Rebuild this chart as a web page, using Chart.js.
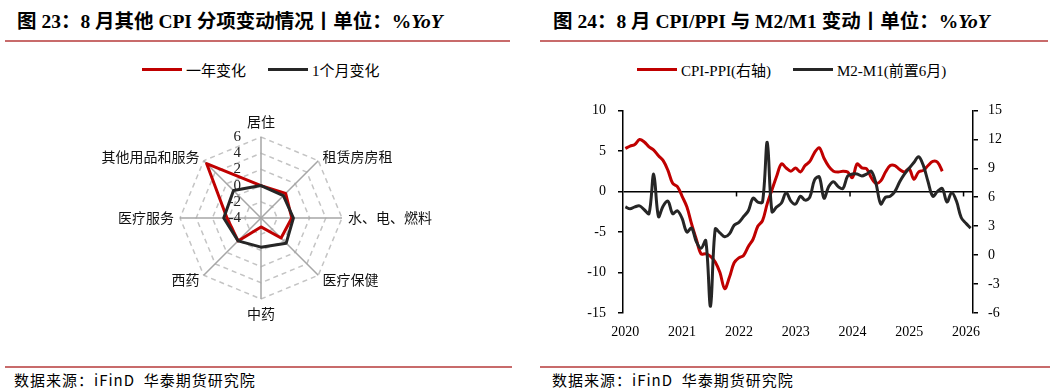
<!DOCTYPE html>
<html>
<head>
<meta charset="utf-8">
<script src="https://cdn.jsdelivr.net/npm/chart.js@4.4.1/dist/chart.umd.min.js"></script>
<style>
  body { margin: 0; width: 1057px; height: 392px; background: #fff; overflow: hidden; position: relative;
         font-family: "Liberation Serif", "Noto Sans CJK SC", serif; color: #000; }
  .title { position: absolute; top: 5px; font-size: 19.5px; font-weight: bold; white-space: nowrap; }
  .title i { font-style: italic; }
  .rule { position: absolute; height: 2px; background: #c86b6b; }
  .foot { position: absolute; top: 369px; font-size: 15px; letter-spacing: 1px; font-family: "Noto Sans CJK SC", sans-serif; white-space: nowrap; }
  .legend { position: absolute; top: 59px; font-size: 15px; white-space: nowrap; display: flex; align-items: center; }
  .legend .sw { display: inline-block; width: 40px; height: 3px; margin-right: 4px; }
  .legend .gap { display: inline-block; width: 22px; }
  canvas { position: absolute; }
</style>
</head>
<body>

<div class="title" style="left:17px">图 23：8 月其他 CPI 分项变动情况丨单位：%<i>YoY</i></div>
<div class="title" style="left:553px">图 24：8 月 CPI/PPI 与 M2/M1 变动丨单位：%<i>YoY</i></div>
<div class="rule" style="left:5px; width:505px; top:40px"></div>
<div class="rule" style="left:540px; width:508px; top:40px"></div>

<div class="legend" style="left:142px">
  <span class="sw" style="background:#c00000"></span>一年变化<span class="gap"></span>
  <span class="sw" style="background:#262626"></span>1个月变化
</div>
<div class="legend" style="left:637px">
  <span class="sw" style="background:#c00000"></span>CPI-PPI(右轴)<span class="gap"></span>
  <span class="sw" style="background:#262626"></span>M2-M1(前置6月)
</div>

<canvas id="radarChart" width="520" height="240" style="left:0; top:100px; width:520px; height:240px"></canvas>
<canvas id="lineChart" width="527" height="270" style="left:530px; top:90px; width:527px; height:270px"></canvas>

<div class="rule" style="left:5px; width:507px; top:366px"></div>
<div class="rule" style="left:540px; width:510px; top:366px"></div>
<div class="foot" style="left:14px">数据来源：iFinD&nbsp;&nbsp;华泰期货研究院</div>
<div class="foot" style="left:552px">数据来源：iFinD&nbsp;&nbsp;华泰期货研究院</div>

<script>
'use strict';

// ─── Data: radar (图 23) ──────────────────────────────────────
const radarCats   = ['居住', '租赁房房租', '水、电、燃料', '医疗保健', '中药', '西药', '医疗服务', '其他用品和服务'];
const yearChange  = [0.0, 0.3, -0.2, -0.5, -2.9, 0.0, 0.2, 5.5];
const monthChange = [0.0, -0.1, 0.0, 0.4, -0.4, 0.0, 0.6, 0.8];
const radarTicks  = [-4, -2, 0, 2, 4, 6];

// ─── Data: lines (图 24), monthly from 2020-01 ────────────────
const months = [];
for (let y = 2020; y <= 2026; y++) {
  for (let m = 1; m <= 12; m++) {
    if (y === 2026 && m > 2) break;
    months.push(y + '-' + String(m).padStart(2, '0'));
  }
}
const cpiPpi = [
  5.3, 5.6, 5.8, 6.4, 6.1, 5.5, 5.1, 4.4, 3.8, 2.6, 1.0, 0.6,
  -0.6, -1.9, -4.0, -5.9, -7.7, -7.7, -8.0, -8.7, -10.0, -12.0, -10.6, -8.8,
  -8.2, -7.9, -6.8, -5.9, -4.3, -3.6, -1.5, 0.2, 1.9, 3.4, 2.9, 2.5,
  2.9, 2.4, 3.2, 3.7, 4.8, 5.4, 4.1, 3.1, 2.5, 2.4, 2.5, 2.4,
  1.7, 3.4, 2.9, 2.8, 1.7, 1.0, 1.3, 2.4, 3.2, 3.2, 2.7, 2.4,
  2.8, 1.5, 2.4, 2.6, 3.2, 3.7, 3.6, 2.5
];
const m2m1Lead = [
  5.0, 4.8, 5.0, 5.1, 4.7, 4.3, 8.4, 4.0, 5.1, 5.6, 4.3, 4.6,
  3.8, 2.4, 2.8, 1.4, 0.7, 1.5, -5.3, 2.7, 2.3, 1.9, 2.2, 3.1,
  3.4, 4.0, 4.6, 5.9, 5.5, 5.5, 11.7, 4.5, 5.0, 5.4, 6.5, 5.6,
  5.3, 6.1, 5.7, 6.0, 7.8, 8.1, 5.9, 7.1, 7.6, 7.1, 6.9, 8.2,
  8.4, 8.4, 8.2, 8.4, 8.7, 7.4, 5.3, 6.0, 6.1, 6.6, 7.6, 8.4,
  9.0, 9.6, 10.2, 9.3, 7.6, 6.1, 6.6, 6.9, 5.5, 6.5, 5.6, 3.9,
  3.3, 2.8
];
const leftTicks  = { min: -15, max: 10, step: 5 };
const rightTicks = { min: -6, max: 15, step: 3 };

const RED   = '#c00000';
const BLACK = '#262626';
const SERIF = '"Liberation Serif", "Noto Sans CJK SC", serif';
const CJK   = '"Noto Sans CJK SC", sans-serif';

// ─── Radar: labels drawn by hand around the scale ────────────
const radarText = {
  id: 'radarText',
  beforeDatasetsDraw(chart) {
    const r = chart.scales.r, ctx = chart.ctx;
    ctx.save();
    ctx.font = '15px ' + SERIF;
    ctx.fillStyle = '#222';
    ctx.textAlign = 'right';
    ctx.textBaseline = 'middle';
    radarTicks.forEach(v => {
      ctx.fillText(String(v), r.xCenter - 20, r.yCenter - r.getDistanceFromCenterForValue(v));
    });
    ctx.restore();
  },
  afterDraw(chart) {
    const r = chart.scales.r, ctx = chart.ctx;
    ctx.save();
    ctx.font = '14px ' + CJK;
    ctx.fillStyle = '#111';
    radarCats.forEach((label, i) => {
      const p = r.getPointPosition(i, r.drawingArea + 6);
      const dx = p.x - r.xCenter, dy = p.y - r.yCenter;
      if (Math.abs(dx) < 1) {
        ctx.textAlign = 'center';
        ctx.textBaseline = dy < 0 ? 'bottom' : 'top';
        ctx.fillText(label, p.x, p.y + (dy < 0 ? -2 : 2));
      } else {
        ctx.textAlign = dx > 0 ? 'left' : 'right';
        ctx.textBaseline = 'middle';
        ctx.fillText(label, p.x, p.y);
      }
    });
    ctx.restore();
  }
};

new Chart(document.getElementById('radarChart'), {
  type: 'radar',
  data: {
    labels: radarCats,
    datasets: [
      { label: '一年变化', data: yearChange, borderColor: RED, borderWidth: 3, fill: false,
        pointRadius: 0, order: 2 },
      { label: '1个月变化', data: monthChange, borderColor: BLACK, borderWidth: 3, fill: false,
        pointRadius: 0, order: 1 },
    ]
  },
  options: {
    responsive: false,
    animation: false,
    layout: { padding: { left: 180, right: 178, top: 37, bottom: 41 } },
    plugins: { legend: { display: false }, tooltip: { enabled: false } },
    elements: { line: { tension: 0, borderJoinStyle: 'round' } },
    scales: {
      r: {
        min: -4, max: 6,
        ticks: { display: false, stepSize: 2 },
        pointLabels: { display: false },
        grid: { color: '#c4c4c4', lineWidth: 1.5 },
        border: { dash: [5, 4] },
        angleLines: { color: '#a6a6a6', lineWidth: 1.5 },
      }
    }
  },
  plugins: [radarText]
});

// ─── Line chart: zero-line ticks every two years ─────────────
const zeroTicks = {
  id: 'zeroTicks',
  afterDatasetsDraw(chart) {
    const x = chart.scales.x, y = chart.scales.y, ctx = chart.ctx;
    const y0 = y.getPixelForValue(0);
    ctx.save();
    ctx.strokeStyle = '#000';
    ctx.lineWidth = 1.5;
    [24, 48, 72].forEach(i => {
      const px = (x.getPixelForValue(i - 1) + x.getPixelForValue(i)) / 2;
      ctx.beginPath();
      ctx.moveTo(px, y0);
      ctx.lineTo(px, y0 + 5);
      ctx.stroke();
    });
    ctx.restore();
  }
};

new Chart(document.getElementById('lineChart'), {
  type: 'line',
  data: {
    labels: months,
    datasets: [
      { label: 'CPI-PPI(右轴)', data: cpiPpi, yAxisID: 'y', borderColor: RED, borderWidth: 3,
        pointRadius: 0, tension: 0.35, order: 2 },
      { label: 'M2-M1(前置6月)', data: m2m1Lead, yAxisID: 'y1', borderColor: BLACK, borderWidth: 3,
        pointRadius: 0, tension: 0.35, order: 1 },
    ]
  },
  options: {
    responsive: false,
    animation: false,
    layout: { padding: { left: 0, right: 0, top: 16, bottom: 0 } },
    plugins: { legend: { display: false }, tooltip: { enabled: false } },
    scales: {
      x: {
        offset: true,
        grid: { display: false, drawTicks: false },
        border: { display: false },
        afterFit: s => { s.height = 47; },
        ticks: {
          autoSkip: false, maxRotation: 0, padding: 11,
          color: '#000', font: { family: SERIF, size: 14 },
          callback: (v, i) => months[i].endsWith('-01') ? months[i].slice(0, 4) : ''
        }
      },
      y: {
        position: 'left',
        min: leftTicks.min, max: leftTicks.max,
        afterFit: s => { s.width = 93; },
        ticks: { stepSize: leftTicks.step, padding: 12, color: '#000', font: { family: SERIF, size: 14 } },
        grid: {
          drawOnChartArea: true, tickLength: 5, tickColor: '#000', tickWidth: 1.5,
          color: c => c.tick && c.tick.value === 0 ? '#000' : 'rgba(0,0,0,0)',
          lineWidth: 1.5
        },
        border: { display: true, color: '#000', width: 1.5 }
      },
      y1: {
        position: 'right',
        min: rightTicks.min, max: rightTicks.max,
        afterFit: s => { s.width = 84; },
        ticks: { stepSize: rightTicks.step, padding: 10, color: '#000', font: { family: SERIF, size: 14 } },
        grid: { drawOnChartArea: false, tickLength: 5, color: '#000', lineWidth: 1.5 },
        border: { display: true, color: '#000', width: 1.5 }
      }
    }
  },
  plugins: [zeroTicks]
});
</script>
</body>
</html>
